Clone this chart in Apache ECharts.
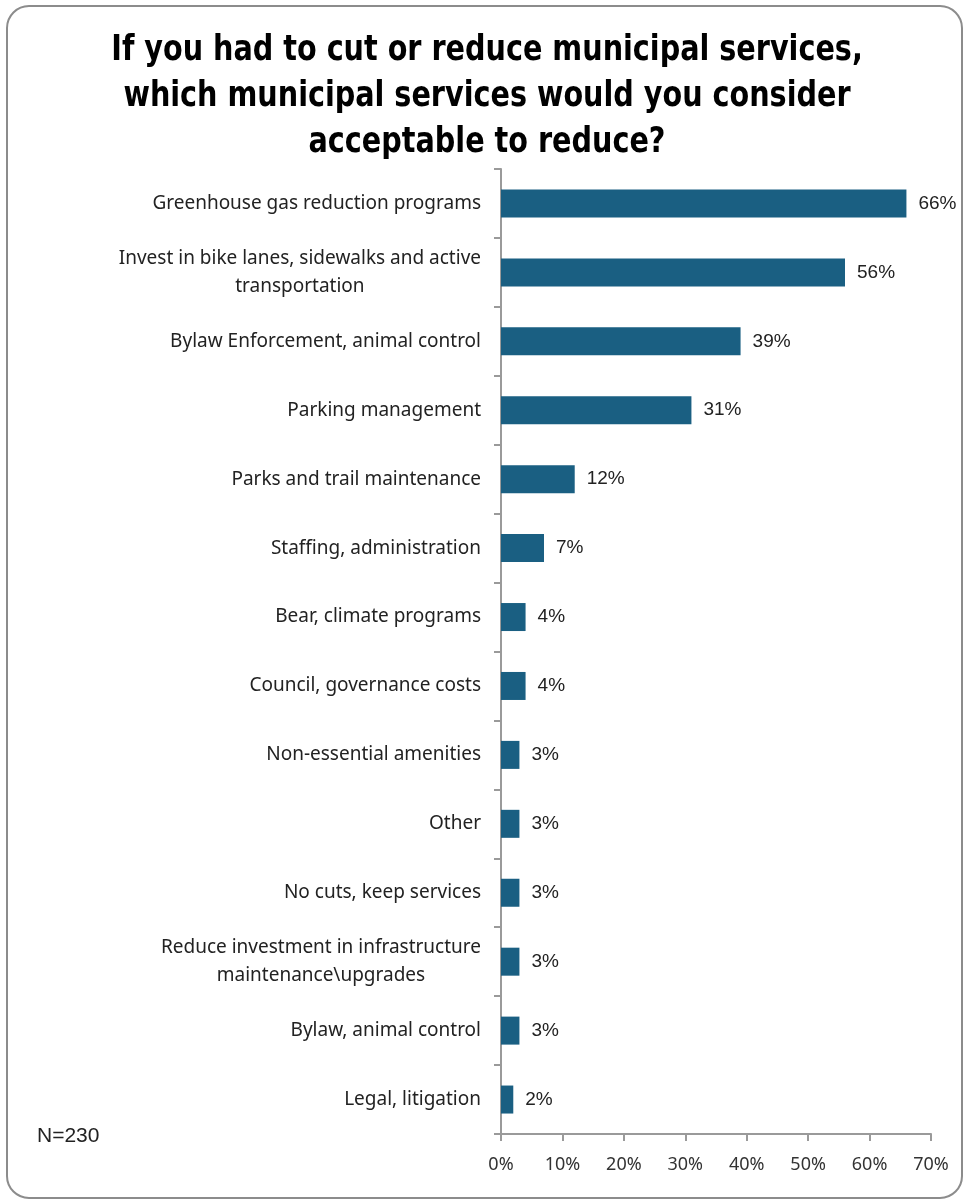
<!DOCTYPE html>
<html>
<head>
<meta charset="utf-8">
<script src="https://cdn.jsdelivr.net/npm/echarts@6/dist/echarts.min.js"></script>
<style>
  html, body { margin: 0; padding: 0; background: #ffffff; }
  #chart { width: 964px; height: 1203px; }
</style>
</head>
<body>
<div id="chart"></div>
<script>
// Survey responses: services respondents would accept being reduced
const categories = [
  'Greenhouse gas reduction programs',
  'Invest in bike lanes, sidewalks and active\ntransportation',
  'Bylaw Enforcement, animal control',
  'Parking management',
  'Parks and trail maintenance',
  'Staffing, administration',
  'Bear, climate programs',
  'Council, governance costs',
  'Non-essential amenities',
  'Other',
  'No cuts, keep services',
  'Reduce investment in infrastructure\nmaintenance\\upgrades',
  'Bylaw, animal control',
  'Legal, litigation'
];
const shares = [66, 56, 39, 31, 12, 7, 4, 4, 3, 3, 3, 3, 3, 2];
const axisTicks = [0, 10, 20, 30, 40, 50, 60, 70];

const titleText = 'If you had to cut or reduce municipal services,\nwhich municipal services would you consider\nacceptable to reduce?';
const noteText = 'N=230';

const chart = echarts.init(document.getElementById('chart'), null, { renderer: 'canvas' });

const axisColor = '#9a9a9a';
const labelFont = { fontFamily: '"Noto Sans", sans-serif', fontSize: 19, lineHeight: 28, color: '#222222' };

chart.setOption({
  backgroundColor: '#ffffff',
  animation: false,
  graphic: [
    {
      // frame around the whole chart
      type: 'rect',
      shape: { x: 7, y: 6, width: 955, height: 1192, r: 22 },
      style: { fill: 'none', stroke: '#8c8c8c', lineWidth: 2 },
      silent: true
    },
    {
      // condensed bold title
      type: 'text',
      x: 487,
      y: 28,
      scaleX: 0.91,
      style: {
        text: titleText,
        align: 'center',
        verticalAlign: 'top',
        font: 'bold 35px "DejaVu Sans Condensed", "Liberation Sans", sans-serif',
        lineHeight: 46,
        fill: '#000000'
      },
      silent: true
    },
    {
      type: 'text',
      left: 37,
      top: 1126,
      style: {
        text: noteText,
        font: '21px "Liberation Sans", Arial, sans-serif',
        fill: '#222222'
      }
    }
  ],
  grid: {
    left: 501,
    top: 169,
    width: 430,
    height: 965,
    containLabel: false
  },
  xAxis: {
    type: 'value',
    min: axisTicks[0],
    max: axisTicks[axisTicks.length - 1],
    interval: 10,
    axisLine: { show: true, lineStyle: { color: axisColor, width: 2 } },
    axisTick: { show: true, length: 7, lineStyle: { color: axisColor, width: 2 } },
    splitLine: { show: false },
    axisLabel: {
      formatter: v => v + '%',
      margin: 22,
      fontFamily: '"Noto Sans", sans-serif',
      fontSize: 18,
      color: '#333333'
    }
  },
  yAxis: {
    type: 'category',
    data: categories,
    inverse: true,
    axisLine: { show: true, lineStyle: { color: axisColor, width: 2 } },
    axisTick: { show: true, length: 7, alignWithLabel: false, lineStyle: { color: axisColor, width: 2 } },
    axisLabel: Object.assign({
      margin: 20,
      align: 'right',
      // each line centred within the right-aligned label block
      formatter: v => v.split('\n').map(s => '{c|' + s + '}').join('\n'),
      rich: { c: Object.assign({ align: 'center' }, labelFont) }
    }, labelFont)
  },
  series: [
    {
      type: 'bar',
      data: shares,
      barWidth: 28,
      itemStyle: { color: '#1a5f82' },
      label: {
        show: true,
        position: 'right',
        distance: 12,
        formatter: p => p.value + '%',
        fontFamily: '"Liberation Sans", Arial, sans-serif',
        fontSize: 19,
        color: '#222222'
      }
    }
  ]
});
</script>
</body>
</html>
